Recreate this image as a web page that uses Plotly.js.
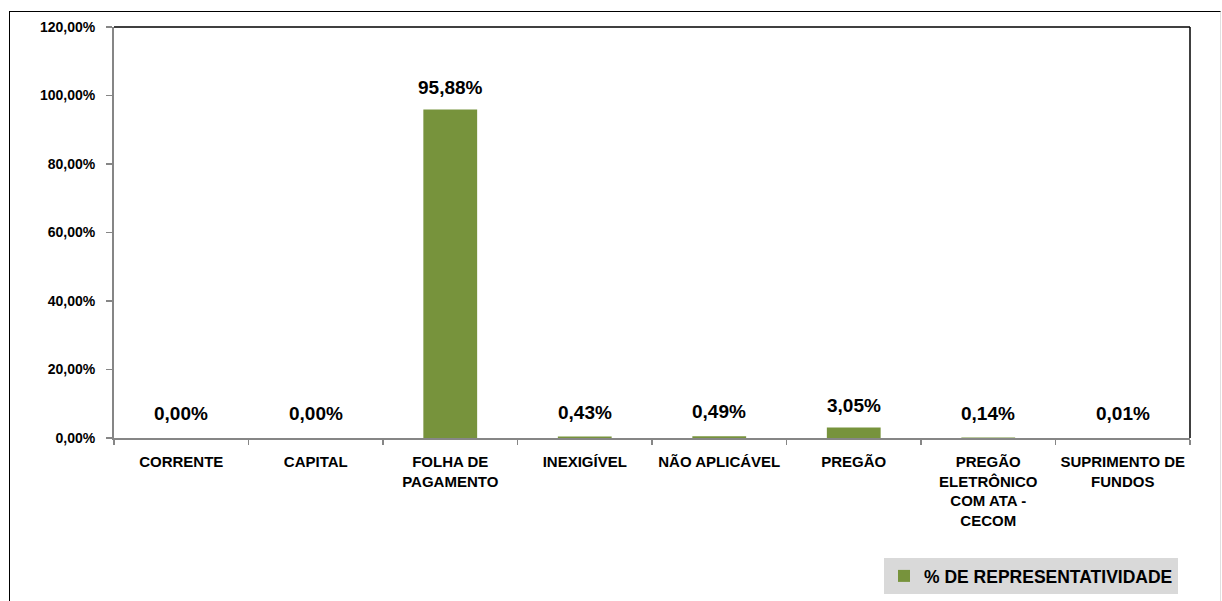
<!DOCTYPE html>
<html><head><meta charset="utf-8">
<script src="https://cdn.plot.ly/plotly-3.0.1.min.js"></script>
<style>
body{margin:0;background:#fff;}
#wrap{position:relative;width:1222px;height:601px;overflow:hidden;}
#chart{position:absolute;left:0;top:0;width:1222px;height:601px;}
#frame{position:absolute;left:9px;top:11px;width:1210px;height:700px;border-left:1.5px solid #000;border-top:1.5px solid #000;border-right:1px solid #e0e0e0;pointer-events:none;}
</style></head>
<body><div id="wrap"><div id="chart"></div><div id="frame"></div></div>
<script>
const categories = ["CORRENTE","CAPITAL","FOLHA DE<br>PAGAMENTO","INEXIGÍVEL","NÃO APLICÁVEL","PREGÃO","PREGÃO<br>ELETRÔNICO<br>COM ATA -<br>CECOM","SUPRIMENTO DE<br>FUNDOS"];
const values = [0.00, 0.00, 95.88, 0.43, 0.49, 3.05, 0.14, 0.01];
const tickVals = [0,20,40,60,80,100,120];
const tickText = ["0,00%","20,00%","40,00%","60,00%","80,00%","100,00%","120,00%"];
const seriesName = "% DE REPRESENTATIVIDADE";

const FONT = '"Liberation Sans", Arial, sans-serif';
const labels = values.map(v => v.toFixed(2).replace('.', ',') + '%');

const trace = {
  type:'bar', x:categories, y:values, name:seriesName,
  marker:{color:'#77933C'},
  showlegend:true
};
const annotations = categories.map((c, i) => ({
  x:c, y:values[i], xref:'x', yref:'y', text:labels[i], showarrow:false,
  yanchor:'bottom', yshift:(values[i] < 2 ? 12 : 10),
  font:{family:FONT, size:19, color:'#000', weight:'bold'}
}));
const layout = {
  width:1222, height:601,
  margin:{l:114, r:32, t:27, b:163, autoexpand:false},
  paper_bgcolor:'rgba(0,0,0,0)', plot_bgcolor:'#fff',
  bargap:0.6,
  font:{family:FONT, color:'#000'},
  xaxis:{type:'category', showline:true, linecolor:'#868686', linewidth:2,
    ticks:'outside', tickson:'boundaries', ticklen:5, tickcolor:'#868686', tickwidth:1.5,
    ticklabelstandoff:9,
    tickfont:{family:FONT, size:15, color:'#000', weight:'bold'}, showgrid:false, fixedrange:true},
  yaxis:{range:[0,120], tickvals:tickVals, ticktext:tickText, showline:true, linecolor:'#868686', linewidth:2,
    ticks:'outside', ticklen:6, tickcolor:'#868686', tickwidth:1.5, showgrid:false, zeroline:false,
    ticklabelstandoff:8,
    tickfont:{family:FONT, size:14, color:'#000', weight:'bold'}},
  shapes:[
    {type:'line', xref:'paper', yref:'paper', x0:0, x1:1, y0:1, y1:1, line:{color:'#000', width:1.5}},
    {type:'line', xref:'paper', yref:'paper', x0:1, x1:1, y0:0, y1:1, line:{color:'#000', width:1.5}}
  ],
  annotations:annotations,
  showlegend:true,
  legend:{xref:'container', yref:'container', x:0.7234, y:0.0116, xanchor:'left', yanchor:'bottom', bgcolor:'#d9d9d9',
    font:{family:FONT, size:17.5, color:'#000', weight:'bold'}, itemwidth:30}
};
Plotly.newPlot('chart',[trace],layout,{displayModeBar:false, staticPlot:true});
</script></body></html>
